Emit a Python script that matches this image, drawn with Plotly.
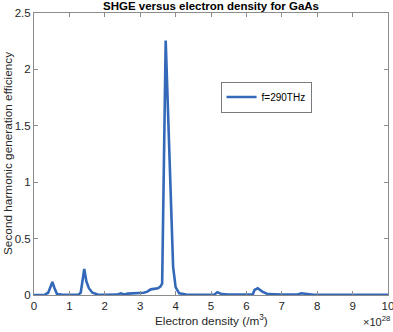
import plotly.graph_objects as go

# electron density in units of 1e28 /m^3, and SHG efficiency
density = [0, 0.3, 0.4, 0.45, 0.52, 0.58, 0.65, 0.8, 1.0, 1.25, 1.32, 1.37, 1.42, 1.48, 1.55, 1.65, 1.8, 2.0,
           2.35, 2.45, 2.55, 2.65, 2.8, 3.0, 3.1, 3.2, 3.3, 3.5, 3.57, 3.62, 3.72, 3.93, 4.0, 4.1, 4.3,
           4.6, 5.0, 5.1, 5.18, 5.3, 5.5, 6.0, 6.18, 6.23, 6.32, 6.45, 6.6, 7.0, 7.45, 7.55, 7.7, 7.9,
           8.5, 9.0, 9.5, 10.0]
shge = [0, 0.002, 0.02, 0.06, 0.115, 0.06, 0.008, 0.002, 0.001, 0.003, 0.02, 0.12, 0.23, 0.12, 0.06, 0.02, 0.005, 0.002,
        0.003, 0.015, 0.004, 0.012, 0.015, 0.014, 0.02, 0.03, 0.05, 0.06, 0.075, 0.1, 2.255, 0.25, 0.07, 0.015, 0.004,
        0.002, 0.003, 0.005, 0.025, 0.008, 0.003, 0.002, 0.005, 0.045, 0.06, 0.03, 0.008, 0.003, 0.004, 0.015, 0.008, 0.002,
        0.002, 0.001, 0.001, 0.001]

xticks = [0, 1, 2, 3, 4, 5, 6, 7, 8, 9, 10]
yticks = [0, 0.5, 1, 1.5, 2, 2.5]

W, H = 393, 332
ml, mr, mt, mb = 34, 5, 13, 37
PW, PH = W - ml - mr, H - mt - mb
font = 'Liberation Sans, Arial, sans-serif'
axcol = '#8c8c8c'
txtcol = '#262626'

fig = go.Figure()
fig.add_trace(go.Scatter(x=density, y=shge, mode='lines', name='f=290THz',
                         line=dict(color='#3468b9', width=2.6)))

axis = dict(showgrid=False, zeroline=False, showline=True, linecolor=axcol, linewidth=1,
            mirror='ticks', ticks='inside', ticklen=4, tickcolor=axcol, tickwidth=1,
            automargin=False, ticklabeloverflow='allow',
            tickfont=dict(family=font, size=11.5, color=txtcol))

fig.update_xaxes(range=[0, 10], tickvals=xticks, **axis)
fig.update_yaxes(range=[0, 2.5], tickvals=yticks, **axis)

fig.update_layout(
    width=W, height=H,
    margin=dict(l=ml, r=mr, t=mt, b=mb),
    plot_bgcolor='white', paper_bgcolor='white',
    font=dict(family=font, size=11, color=txtcol),
    showlegend=True,
    legend=dict(x=0.527, y=0.757, xanchor='left', yanchor='top',
                bordercolor='#7a7a7a', borderwidth=1, bgcolor='white',
                font=dict(family=font, size=10, color='black'),
                tracegroupgap=0, itemwidth=30),
)

# title, axis labels and exponent as paper annotations (pixel positions from the reference)
fig.add_annotation(text='<b>SHGE versus electron density for GaAs</b>', xref='paper', yref='paper',
                   x=0.5, y=1 + (mt - 6) / PH, xanchor='center', yanchor='middle',
                   showarrow=False, font=dict(family=font, size=11.5, color='black'))
lab_y = -(320 - (H - mb)) / PH
fig.add_annotation(text='Electron density (/m<sup>3</sup>)', xref='paper', yref='paper',
                   x=0.5, y=lab_y, xanchor='center', yanchor='middle',
                   showarrow=False, font=dict(family=font, size=11.8, color=txtcol))
fig.add_annotation(text='Second harmonic generation efficiency', xref='paper', yref='paper',
                   x=-(ml - 8) / PW, y=0.5, xanchor='center', yanchor='middle', textangle=-90,
                   showarrow=False, font=dict(family=font, size=11.8, color=txtcol))
fig.add_annotation(text='×10<sup>28</sup>', xref='paper', yref='paper',
                   x=(W - 1 - ml) / PW, y=-(321 - (H - mb)) / PH,
                   xanchor='right', yanchor='middle',
                   showarrow=False, font=dict(family=font, size=11, color=txtcol))

# drop the page's default body margin so the figure sits at the window's corner
fig.write_html('out.html', config={'displayModeBar': False},
               post_script="document.body.style.margin='0px';")
